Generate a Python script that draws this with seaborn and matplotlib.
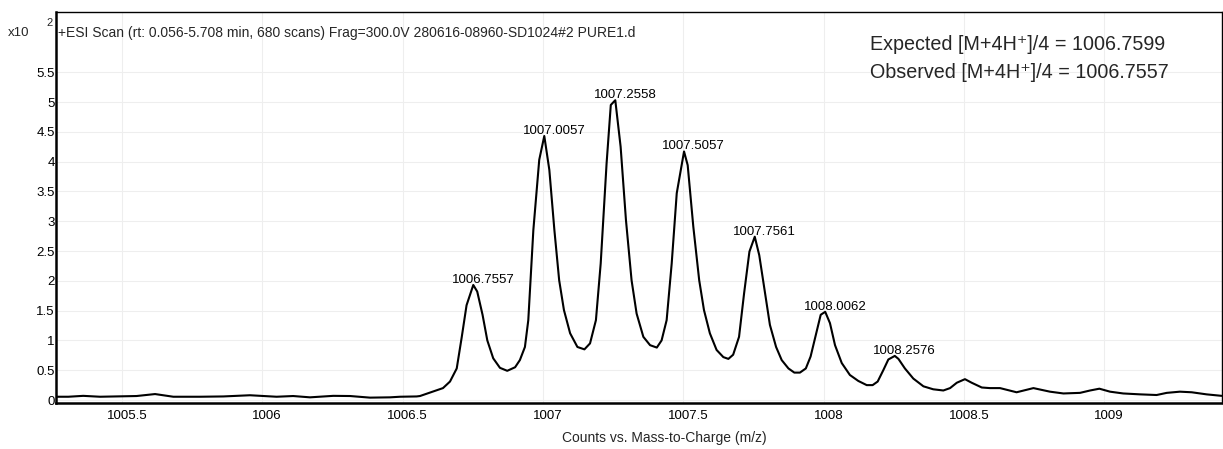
import numpy as np
import pandas as pd
import matplotlib
matplotlib.use("Agg")
import matplotlib.pyplot as plt
from matplotlib.transforms import ScaledTranslation
import seaborn as sns

# ---------------- data (intensity in units of x10^2 counts) ----------------
mz = [
    1005.265, 1005.309, 1005.362, 1005.422, 1005.481, 1005.552, 1005.618, 1005.683,
    1005.778, 1005.861, 1005.956, 1006.051, 1006.110, 1006.170, 1006.253, 1006.313,
    1006.384, 1006.455, 1006.491, 1006.550, 1006.562, 1006.644, 1006.669, 1006.693,
    1006.711, 1006.728, 1006.752, 1006.766, 1006.785, 1006.802, 1006.823, 1006.847,
    1006.873, 1006.901, 1006.918, 1006.936, 1006.948, 1006.966, 1006.987, 1007.005,
    1007.023, 1007.041, 1007.058, 1007.075, 1007.097, 1007.123, 1007.148, 1007.168,
    1007.189, 1007.206, 1007.227, 1007.242, 1007.258, 1007.277, 1007.296, 1007.316,
    1007.334, 1007.358, 1007.382, 1007.406, 1007.423, 1007.441, 1007.459, 1007.477,
    1007.503, 1007.516, 1007.536, 1007.557, 1007.574, 1007.595, 1007.619, 1007.643,
    1007.661, 1007.678, 1007.699, 1007.717, 1007.736, 1007.755, 1007.771, 1007.792,
    1007.809, 1007.831, 1007.851, 1007.875, 1007.896, 1007.916, 1007.937, 1007.954,
    1007.974, 1007.990, 1008.006, 1008.023, 1008.041, 1008.065, 1008.094, 1008.124,
    1008.154, 1008.175, 1008.193, 1008.213, 1008.231, 1008.254, 1008.267, 1008.290,
    1008.320, 1008.356, 1008.391, 1008.427, 1008.451, 1008.475, 1008.504, 1008.528,
    1008.564, 1008.593, 1008.629, 1008.688, 1008.748, 1008.807, 1008.855, 1008.914,
    1008.950, 1008.983, 1009.021, 1009.068, 1009.128, 1009.187, 1009.223, 1009.270,
    1009.312, 1009.365, 1009.419,
]
intensity = [
    0.055, 0.055, 0.070, 0.055, 0.060, 0.067, 0.100, 0.055,
    0.055, 0.060, 0.080, 0.055, 0.067, 0.045, 0.070, 0.067,
    0.040, 0.045, 0.055, 0.060, 0.067, 0.200, 0.310, 0.530,
    1.060, 1.590, 1.930, 1.820, 1.430, 1.000, 0.700, 0.540,
    0.490, 0.550, 0.670, 0.890, 1.340, 2.850, 4.030, 4.430,
    3.860, 2.850, 2.010, 1.510, 1.120, 0.890, 0.850, 0.950,
    1.340, 2.290, 3.970, 4.950, 5.030, 4.250, 3.020, 2.010,
    1.450, 1.060, 0.920, 0.880, 1.000, 1.340, 2.290, 3.470,
    4.170, 3.940, 2.910, 2.010, 1.510, 1.120, 0.840, 0.720,
    0.690, 0.760, 1.060, 1.790, 2.490, 2.740, 2.430, 1.790,
    1.260, 0.890, 0.670, 0.530, 0.460, 0.460, 0.530, 0.730,
    1.120, 1.430, 1.480, 1.290, 0.920, 0.620, 0.420, 0.320,
    0.250, 0.250, 0.310, 0.500, 0.680, 0.740, 0.690, 0.530,
    0.360, 0.230, 0.180, 0.160, 0.200, 0.290, 0.350, 0.290,
    0.210, 0.200, 0.200, 0.130, 0.200, 0.140, 0.110, 0.120,
    0.160, 0.190, 0.140, 0.110, 0.095, 0.084, 0.120, 0.140,
    0.130, 0.095, 0.070,
]
peak_labels = ["1006.7557", "1007.0057", "1007.2558", "1007.5057",
               "1007.7561", "1008.0062", "1008.2576"]
x_ticks = [1005.5, 1006, 1006.5, 1007, 1007.5, 1008, 1008.5, 1009]
y_ticks = [0, 0.5, 1, 1.5, 2, 2.5, 3, 3.5, 4, 4.5, 5, 5.5]
title_text = "+ESI Scan (rt: 0.056-5.708 min, 680 scans) Frag=300.0V 280616-08960-SD1024#2 PURE1.d"
x_label = "Counts vs. Mass-to-Charge (m/z)"
info_lines = ["Expected [M+4H\u207a]/4 = 1006.7599", "Observed [M+4H\u207a]/4 = 1006.7557"]

# ---------------- style ----------------
sns.set_theme(style="white")
FONT = ["Liberation Sans", "DejaVu Sans"]
plt.rcParams["font.family"] = FONT

W, H = 1223, 449
fig = plt.figure(figsize=(W / 100, H / 100), dpi=100)
left, right, top, bottom = 56, 1222, 12, 403
ax = fig.add_axes([left / W, 1 - bottom / H, (right - left) / W, (bottom - top) / H])

df = pd.DataFrame({"mz": mz, "intensity": intensity})
sns.lineplot(data=df, x="mz", y="intensity", ax=ax, color="black", linewidth=1.5,
             sort=False, estimator=None)

ax.set_xlim(1005.265, 1009.42)
ax.set_ylim(-0.05, 6.51)
ax.set_xticks(x_ticks)
ax.set_yticks(y_ticks)
ax.set_xticklabels([f"{t:g}" for t in x_ticks])
ax.set_yticklabels([f"{t:g}" for t in y_ticks])
ax.tick_params(axis="both", length=0, labelsize=9.5, colors="black")
ax.tick_params(axis="x", pad=5)
ax.tick_params(axis="y", pad=1)
for lab in ax.get_xticklabels():
    lab.set_transform(lab.get_transform() + ScaledTranslation(5 / 100, 0, fig.dpi_scale_trans))
ax.set_xlabel("")
ax.set_ylabel("")
ax.grid(True, color="#eeeeee", linewidth=0.8)
ax.set_axisbelow(True)

for side in ["left", "bottom"]:
    ax.spines[side].set_linewidth(1.8)
    ax.spines[side].set_color("black")
for side in ["top", "right"]:
    ax.spines[side].set_linewidth(1.0)
    ax.spines[side].set_color("black")

# peak annotations
mz_arr = np.array(mz)
int_arr = np.array(intensity)
for lab in peak_labels:
    v = float(lab)
    sel = np.abs(mz_arr - v) < 0.03
    i = np.argmax(np.where(sel, int_arr, -1))
    ax.annotate(lab, xy=(mz_arr[i], int_arr[i]), xytext=(7, 1.5),
                textcoords="offset points", ha="center", va="baseline",
                fontsize=9.5, color="black")

# texts in figure pixel coordinates
def fx(px):
    return px / W

def fy(py):
    return 1 - py / H

fig.text(fx(8), fy(33), "x10", fontsize=9.5, va="center", ha="left")
fig.text(fx(46), fy(23), "2", fontsize=8, va="center", ha="left")
fig.text(fx(58), fy(33), title_text, fontsize=10, va="center", ha="left")
fig.text(fx(870), fy(45), info_lines[0], fontsize=14.2, va="center", ha="left")
fig.text(fx(870), fy(72), info_lines[1], fontsize=14.2, va="center", ha="left")
fig.text(fx(664), fy(438), x_label, fontsize=10, va="center", ha="center")

fig.savefig("out.png", dpi=100)
